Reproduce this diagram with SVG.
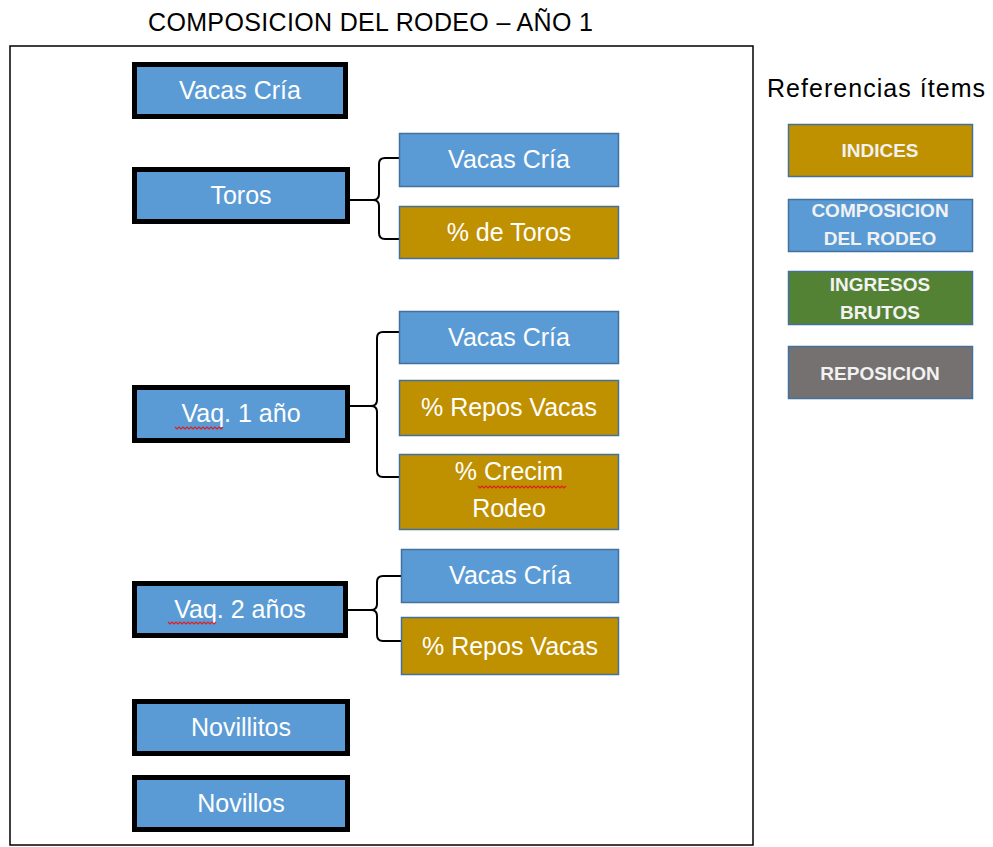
<svg xmlns="http://www.w3.org/2000/svg" width="993" height="847" viewBox="0 0 993 847">
<style>
.bg{fill:#fff}
.frame{fill:none;stroke:#000;stroke-width:1.5}
.main rect{fill:#5B9BD5;stroke:#000;stroke-width:5}
.child rect{stroke:#41719C;stroke-width:1.5}
.blue{fill:#5B9BD5}
.gold{fill:#BF9000}
.green{fill:#548235}
.gray{fill:#767171}
.lbl{font-family:"Liberation Sans",Arial,sans-serif;font-size:25px;fill:#fff;text-anchor:middle}
.leg{font-family:"Liberation Sans",Arial,sans-serif;font-size:19px;font-weight:bold;fill:#F2F2F2;text-anchor:middle}
.ttl{font-family:"Liberation Sans",Arial,sans-serif;fill:#000}
.conn path{fill:none;stroke:#000;stroke-width:2}
.sq{fill:none;stroke:#E02020;stroke-width:1.2}
</style>
<rect class="bg" x="0" y="0" width="993" height="847"/>
<text class="ttl" x="148" y="31" font-size="25" textLength="445">COMPOSICION DEL RODEO – AÑO 1</text>
<rect class="frame" x="10" y="46" width="743" height="799"/>

<g id="connectors" class="conn">
<path d="M350,200 H373 M399,158 H385 Q379,158 379,164 V194 Q379,200 373,200 Q379,200 379,206 V233 Q379,239 385,239 H399"/>
<path d="M350,406 H371 M399,332 H383 Q377,332 377,338 V400 Q377,406 371,406 Q377,406 377,412 V471 Q377,477 383,477 H399"/>
<path d="M348,610 H371 M401,576 H383 Q377,576 377,582 V604 Q377,610 371,610 Q377,610 377,616 V635 Q377,641 383,641 H401"/>
</g>

<g id="n-vacas" class="main"><rect x="134.5" y="64.5" width="211" height="52"/><text class="lbl" x="240" y="99">Vacas Cría</text></g>
<g id="n-toros" class="main"><rect x="134.5" y="169.5" width="213" height="52"/><text class="lbl" x="241" y="204">Toros</text></g>
<g id="n-vag1" class="main"><rect x="134.5" y="387.5" width="213" height="53"/><text class="lbl" x="241" y="422">Vaq. 1 año</text>
<path class="sq" d="M175,427 l2,2 l2,-2 l2,2 l2,-2 l2,2 l2,-2 l2,2 l2,-2 l2,2 l2,-2 l2,2 l2,-2 l2,2 l2,-2 l2,2 l2,-2 l2,2 l2,-2 l2,2 l2,-2 l2,2 l2,-2 l2,2 l2,-2"/></g>
<g id="n-vag2" class="main"><rect x="134.5" y="583.5" width="211" height="52"/><text class="lbl" x="240" y="618">Vaq. 2 años</text>
<path class="sq" d="M168,622 l2,2 l2,-2 l2,2 l2,-2 l2,2 l2,-2 l2,2 l2,-2 l2,2 l2,-2 l2,2 l2,-2 l2,2 l2,-2 l2,2 l2,-2 l2,2 l2,-2 l2,2 l2,-2 l2,2 l2,-2 l2,2 l2,-2"/></g>
<g id="n-novillitos" class="main"><rect x="134.5" y="701.5" width="213" height="52"/><text class="lbl" x="241" y="736">Novillitos</text></g>
<g id="n-novillos" class="main"><rect x="134.5" y="777.5" width="213" height="52"/><text class="lbl" x="241" y="812">Novillos</text></g>

<g id="c-toros-vacas" class="child"><rect class="blue" x="399.5" y="133.5" width="219" height="53"/><text class="lbl" x="509" y="168">Vacas Cría</text></g>
<g id="c-toros-pct" class="child"><rect class="gold" x="399.5" y="206.5" width="219" height="52"/><text class="lbl" x="509" y="241">% de Toros</text></g>
<g id="c-vag1-vacas" class="child"><rect class="blue" x="399.5" y="311.5" width="219" height="52"/><text class="lbl" x="509" y="346">Vacas Cría</text></g>
<g id="c-vag1-repos" class="child"><rect class="gold" x="399.5" y="380.5" width="219" height="55"/><text class="lbl" x="509" y="416">% Repos Vacas</text></g>
<g id="c-vag1-crecim" class="child"><rect class="gold" x="399.5" y="454.5" width="219" height="75"/><text class="lbl" x="509" y="480">% Crecim</text><text class="lbl" x="509" y="517">Rodeo</text>
<path class="sq" d="M478,486 l2,2 l2,-2 l2,2 l2,-2 l2,2 l2,-2 l2,2 l2,-2 l2,2 l2,-2 l2,2 l2,-2 l2,2 l2,-2 l2,2 l2,-2 l2,2 l2,-2 l2,2 l2,-2 l2,2 l2,-2 l2,2 l2,-2 l2,2 l2,-2 l2,2 l2,-2 l2,2 l2,-2 l2,2 l2,-2 l2,2 l2,-2 l2,2 l2,-2 l2,2 l2,-2 l2,2 l2,-2 l2,2 l2,-2 l2,2 l2,-2"/></g>
<g id="c-vag2-vacas" class="child"><rect class="blue" x="401.5" y="549.5" width="217" height="53"/><text class="lbl" x="510" y="584">Vacas Cría</text></g>
<g id="c-vag2-repos" class="child"><rect class="gold" x="401.5" y="617.5" width="217" height="57"/><text class="lbl" x="510" y="655">% Repos Vacas</text></g>

<g id="legend">
<text class="ttl" x="767" y="97" font-size="25" textLength="218">Referencias ítems</text>
<g id="leg-indices" class="child"><rect class="gold" x="788.5" y="124.5" width="184" height="52"/><text class="leg" x="880" y="157">INDICES</text></g>
<g id="leg-comp" class="child"><rect class="blue" x="788.5" y="199.5" width="184" height="52"/><text class="leg" x="880" y="217">COMPOSICION</text><text class="leg" x="880" y="245">DEL RODEO</text></g>
<g id="leg-ingresos" class="child"><rect class="green" x="788.5" y="271.5" width="184" height="53"/><text class="leg" x="880" y="291">INGRESOS</text><text class="leg" x="880" y="319">BRUTOS</text></g>
<g id="leg-repos" class="child"><rect class="gray" x="788.5" y="346.5" width="184" height="52"/><text class="leg" x="880" y="380">REPOSICION</text></g>
</g>
</svg>
